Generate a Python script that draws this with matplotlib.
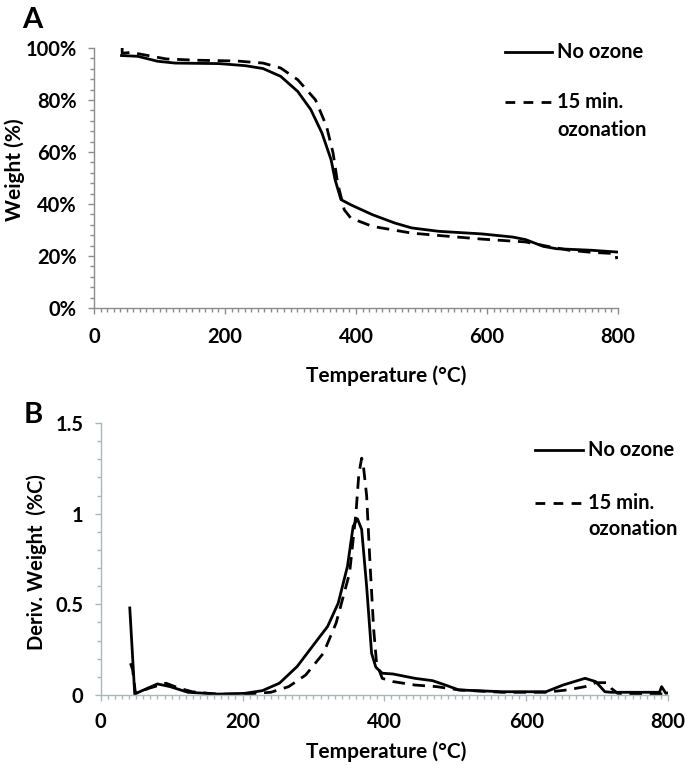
import matplotlib
matplotlib.use("Agg")
import matplotlib.pyplot as plt
from matplotlib.ticker import MultipleLocator, FuncFormatter

plt.rcParams['font.family'] = ['Lato', 'DejaVu Sans']

# ---- Panel A: TGA weight (%) ----
tA_no = [42, 67, 97, 124, 191, 231, 258, 285, 311, 331, 348, 362, 368, 377, 392, 425, 459, 485, 526, 592, 639, 659, 686, 706, 760, 800]
wA_no = [97.1, 96.8, 94.9, 94.2, 94.0, 93.2, 92.1, 89.1, 83.3, 76.3, 67.3, 57.0, 49.4, 41.7, 39.7, 35.9, 32.7, 30.8, 29.5, 28.5, 27.3, 26.3, 23.7, 22.8, 22.2, 21.5]
tA_oz = [43, 43, 57, 110, 157, 218, 258, 285, 311, 338, 355, 365, 372, 382, 392, 425, 485, 526, 592, 659, 693, 726, 760, 797, 798]
wA_oz = [100.0, 98.0, 98.3, 95.8, 95.3, 95.0, 94.2, 92.3, 87.8, 80.1, 69.9, 59.6, 48.0, 37.8, 34.6, 31.4, 28.8, 27.9, 26.5, 25.4, 23.7, 22.2, 21.4, 20.9, 18.8]

# ---- Panel B: derivative weight ----
tB_no = [41, 48, 55, 80, 98, 123, 166, 203, 228, 252, 277, 302, 320, 335, 348, 356, 362, 368, 375, 382, 388, 397, 412, 443, 468, 486, 505, 566, 628, 652, 683, 698, 711, 720, 788, 791, 797, 800]
dB_no = [0.48, 0.005, 0.018, 0.061, 0.046, 0.015, 0.005, 0.009, 0.024, 0.065, 0.157, 0.286, 0.378, 0.507, 0.71, 0.93, 0.972, 0.913, 0.60, 0.23, 0.153, 0.12, 0.116, 0.092, 0.079, 0.055, 0.028, 0.018, 0.018, 0.055, 0.092, 0.074, 0.018, 0.015, 0.015, 0.046, 0.009, 0.012]
tB_oz = [42, 45, 49, 68, 92, 111, 129, 166, 203, 240, 265, 289, 314, 332, 351, 360, 364, 368, 370, 375, 380, 385, 389, 397, 412, 443, 474, 505, 566, 628, 658, 683, 698, 714, 720, 729, 760, 800]
dB_oz = [0.175, 0.14, 0.01, 0.037, 0.065, 0.037, 0.018, 0.004, 0.005, 0.015, 0.046, 0.11, 0.23, 0.397, 0.673, 1.005, 1.218, 1.306, 1.28, 1.1, 0.71, 0.36, 0.175, 0.092, 0.074, 0.055, 0.046, 0.028, 0.015, 0.015, 0.028, 0.046, 0.068, 0.068, 0.037, 0.009, 0.006, 0.006]

labels = ["No ozone", "15 min.", "ozonation"]

W, H = 685, 765
fig = plt.figure(figsize=(W / 100, H / 100), dpi=100)

def frac(x0, y0, x1, y1):
    return [x0 / W, 1 - y1 / H, (x1 - x0) / W, (y1 - y0) / H]

lw = 2.0
dash = (0, (4.5, 2.8))
legdash = (0, (3.5, 3.0))
TS = 14.5   # tick label size
LS = 15     # axis label size
GS = 14.5   # legend text size

# Panel A
axA = fig.add_axes(frac(94, 48, 618, 308))
axA.plot(tA_no, wA_no, color='black', lw=lw, solid_joinstyle='round')
axA.plot(tA_oz, wA_oz, color='black', lw=lw, linestyle=dash)
axA.set_xlim(0, 800)
axA.set_ylim(0, 100)
axA.xaxis.set_major_locator(MultipleLocator(200))
axA.xaxis.set_minor_locator(MultipleLocator(10))
axA.yaxis.set_major_locator(MultipleLocator(20))
axA.yaxis.set_minor_locator(MultipleLocator(4))
axA.yaxis.set_major_formatter(FuncFormatter(lambda v, p: f"{int(round(v))}%"))
for s in ['top', 'right']:
    axA.spines[s].set_visible(False)
for s in ['left', 'bottom']:
    axA.spines[s].set_color('#8c8c8c')
    axA.spines[s].set_linewidth(1.0)
axA.tick_params(which='both', direction='out', color='#8c8c8c', width=1.0)
axA.tick_params(which='major', length=4.5, labelsize=TS, pad=8)
axA.tick_params(which='minor', length=3)
axA.tick_params(axis='x', which='major', pad=9)
for lab in axA.get_xticklabels() + axA.get_yticklabels():
    lab.set_fontweight('bold')
axA.set_xlabel("Temperature (°C)", fontsize=LS, fontweight='bold')
axA.xaxis.set_label_coords((386 - 94) / 524, -(365 - 308) / 260)
axA.set_ylabel("Weight (%)", fontsize=LS, fontweight='bold')
axA.yaxis.set_label_coords(-(94 - 25) / 524, (308 - 170) / 260)

# Panel A legend (manual)
fig.add_artist(plt.Line2D([505 / W, 552 / W], [1 - 52 / H, 1 - 52 / H], color='black', lw=lw))
fig.add_artist(plt.Line2D([505 / W, 552 / W], [1 - 102 / H, 1 - 102 / H], color='black', lw=lw, linestyle=legdash))
fig.text(557 / W, 1 - 52 / H, labels[0], fontsize=GS, fontweight='bold', va='center', ha='left')
fig.text(557 / W, 1 - 102 / H, labels[1], fontsize=GS, fontweight='bold', va='center', ha='left')
fig.text(557 / W, 1 - 130 / H, labels[2], fontsize=GS, fontweight='bold', va='center', ha='left')

fig.text(32 / W, 1 - 20 / H, "A", fontsize=21, fontweight='bold', ha='center', va='center')

# Panel B
axB = fig.add_axes(frac(100.7, 423, 668, 695))
axB.plot(tB_no, dB_no, color='black', lw=lw)
axB.plot(tB_oz, dB_oz, color='black', lw=lw, linestyle=dash)
axB.set_xlim(0, 800)
axB.set_ylim(0, 1.5)
axB.xaxis.set_major_locator(MultipleLocator(200))
axB.xaxis.set_minor_locator(MultipleLocator(10))
axB.yaxis.set_major_locator(MultipleLocator(0.5))
axB.yaxis.set_minor_locator(MultipleLocator(0.1))
axB.yaxis.set_major_formatter(FuncFormatter(lambda v, p: f"{v:g}"))
for s in ['top', 'right']:
    axB.spines[s].set_visible(False)
for s in ['left', 'bottom']:
    axB.spines[s].set_color('#a9b8b8')
    axB.spines[s].set_linewidth(1.0)
axB.tick_params(which='both', direction='out', color='#a9b8b8', width=1.0)
axB.tick_params(which='major', length=4.5, labelsize=TS, pad=8)
axB.tick_params(which='minor', length=3)
axB.tick_params(axis='x', which='major', pad=8)
for lab in axB.get_xticklabels() + axB.get_yticklabels():
    lab.set_fontweight('bold')
axB.set_xlabel("Temperature (°C)", fontsize=LS, fontweight='bold')
axB.xaxis.set_label_coords((386 - 100.7) / 567.3, -(741 - 695) / 272)
axB.set_ylabel("Deriv. Weight  (%C)", fontsize=LS - 0.5, fontweight='bold')
axB.yaxis.set_label_coords(-(100.7 - 47) / 567.3, (695 - 562) / 272)

fig.add_artist(plt.Line2D([535 / W, 583 / W], [1 - 450 / H, 1 - 450 / H], color='black', lw=lw))
fig.add_artist(plt.Line2D([535 / W, 583 / W], [1 - 503 / H, 1 - 503 / H], color='black', lw=lw, linestyle=legdash))
fig.text(588 / W, 1 - 450 / H, labels[0], fontsize=GS, fontweight='bold', va='center', ha='left')
fig.text(588 / W, 1 - 503 / H, labels[1], fontsize=GS, fontweight='bold', va='center', ha='left')
fig.text(588 / W, 1 - 529 / H, labels[2], fontsize=GS, fontweight='bold', va='center', ha='left')

fig.text(33 / W, 1 - 415 / H, "B", fontsize=21, fontweight='bold', ha='center', va='center')

fig.savefig("out.png", dpi=100, facecolor='white')
